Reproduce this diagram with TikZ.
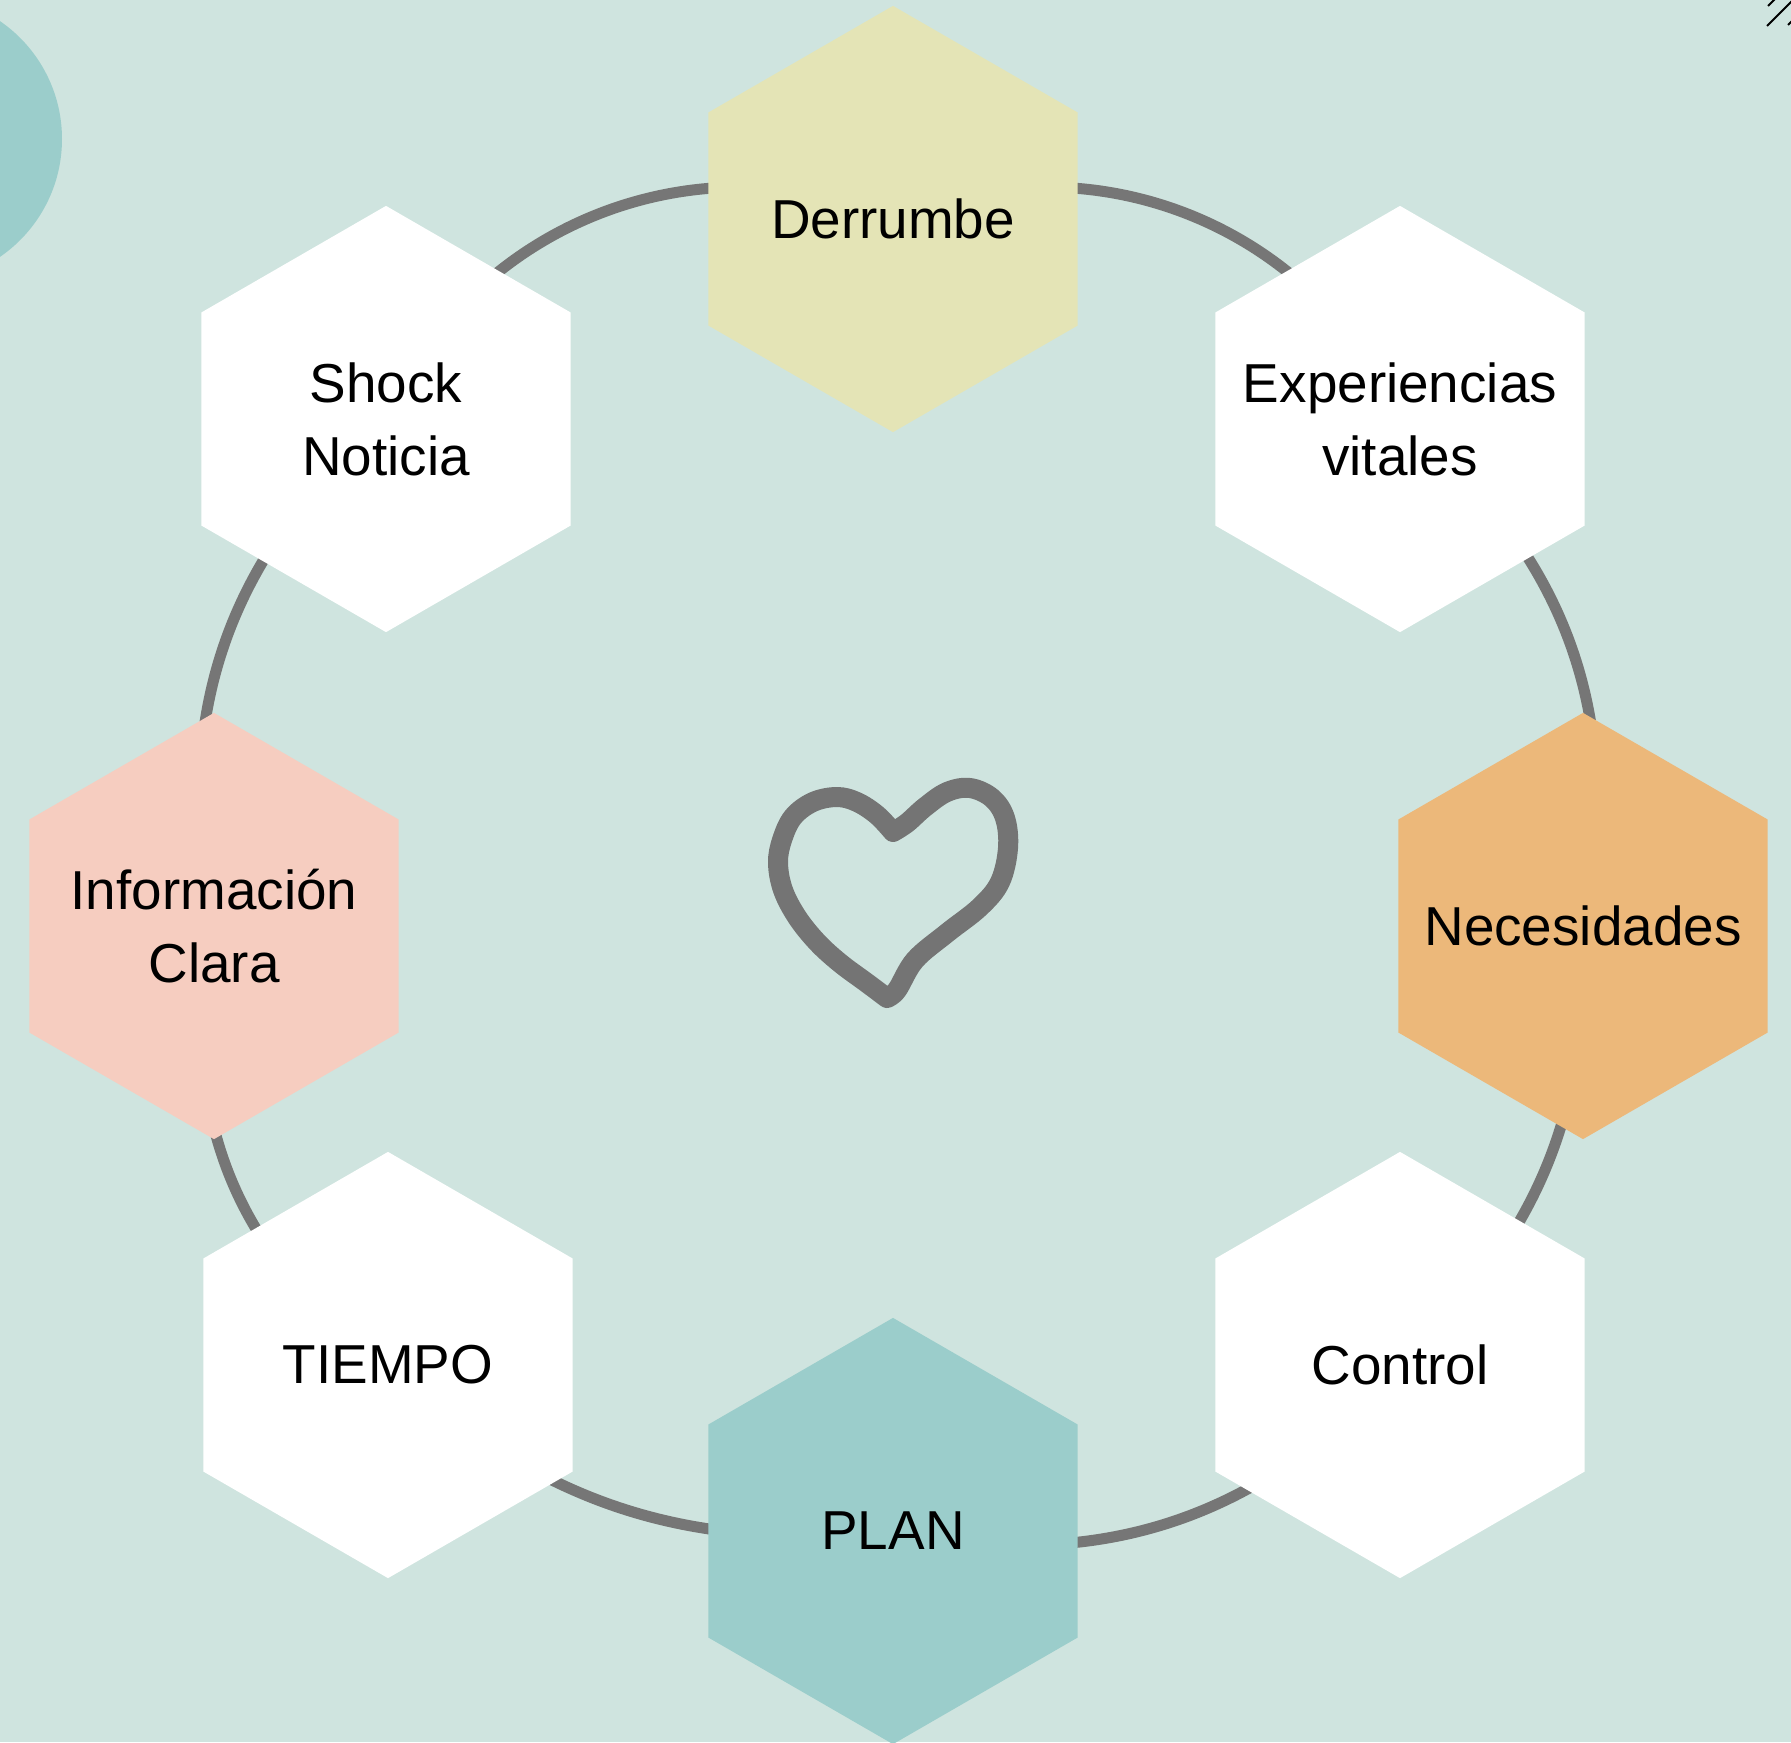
\documentclass[tikz,border=0pt]{standalone}
\usepackage{fontspec}
\setmainfont{Liberation Sans}
\usetikzlibrary{shapes.geometric}
\pgfdeclarelayer{back}
\pgfdeclarelayer{ring}
\pgfsetlayers{back,ring,main}
\definecolor{bgcol}{HTML}{CFE4DF}
\definecolor{tealcol}{HTML}{9BCDCB}
\definecolor{yellowcol}{HTML}{E4E4B6}
\definecolor{orangecol}{HTML}{ECB87A}
\definecolor{pinkcol}{HTML}{F6CDC0}
\definecolor{ringgray}{HTML}{767676}
\definecolor{heartgray}{HTML}{747474}
\begin{document}
\begin{tikzpicture}[x=0.01cm,y=0.01cm]

    \tikzset{
      HexStyle/.style = { regular polygon, regular polygon sides=6,
                          shape border rotate=30, minimum size=4.26cm,
                          inner sep=0pt, fill=white },
      HexLabel/.style = { align=center, inner sep=0pt,
                          font=\fontsize{15.6}{20.7}\selectfont },
      RingStyle/.style = { draw=ringgray, line width=0.11cm },
      HeartStyle/.style = { draw=heartgray, line width=0.2cm,
                            line cap=round, line join=round } }

      \useasboundingbox (0,0) rectangle (1791,-1742);

      \begin{pgfonlayer}{back}
      \fill[bgcol] (0,0) rectangle (1791,-1742);
      \begin{scope}
        \clip (0,0) rectangle (1791,-1742);
        \fill[tealcol] (-81,-139) circle (143);
        \draw[black, line width=0.02cm] (1768,-6) -- (1778,4);
        \draw[black, line width=0.02cm] (1767,-26) -- (1797,4);
        \draw[black, line width=0.02cm] (1788,-25) -- (1802,-11);
      \end{scope}
      \end{pgfonlayer}

      \node[HexStyle, fill=yellowcol, label={[HexLabel]center:Derrumbe}] (h1) at (893,-219) {};
      \node[HexStyle, label={[HexLabel]center:Experiencias\\vitales}] (h2) at (1400,-419) {};
      \node[HexStyle, fill=orangecol, label={[HexLabel]center:Necesidades}] (h3) at (1583,-926) {};
      \node[HexStyle, label={[HexLabel]center:Control}] (h4) at (1400,-1365) {};
      \node[HexStyle, fill=tealcol, label={[HexLabel]center:PLAN}] (h5) at (893,-1531) {};
      \node[HexStyle, label={[HexLabel]center:TIEMPO}] (h6) at (388,-1365) {};
      \node[HexStyle, fill=pinkcol, label={[HexLabel]center:Información\\Clara}] (h7) at (214,-926) {};
      \node[HexStyle, label={[HexLabel]center:Shock\\Noticia}] (h8) at (386,-419) {};

      \begin{pgfonlayer}{ring}
      \draw[RingStyle] (h1.center) to[bend left=45] (h2.center);
      \draw[RingStyle] (h2.center) to[bend left=32] (h3.center);
      \draw[RingStyle] (h3.center) to[bend left=25] (h4.center);
      \draw[RingStyle] (h4.center) to[bend left=30] (h5.center);
      \draw[RingStyle] (h5.center) to[bend left=24] (h6.center);
      \draw[RingStyle] (h6.center) to[bend left=34] (h7.center);
      \draw[RingStyle] (h7.center) to[bend left=31] (h8.center);
      \draw[RingStyle] (h8.center) to[bend left=45] (h1.center);
      \end{pgfonlayer}

      \draw[HeartStyle] plot[smooth, tension=0.6] coordinates {(893,-832)
        (877,-815) (857,-802) (837,-797) (813,-802) (793,-817) (782,-840)
        (778,-863) (783,-890) (797,-917) (817,-942) (840,-963) (867,-983)
        (887,-998)}
        plot[smooth, tension=0.6] coordinates {(887,-998) (897,-990)
        (915,-960) (947,-933) (980,-907) (1000,-882) (1008,-848) (1005,-818)
        (992,-798) (970,-788) (947,-792) (925,-807) (907,-823) (893,-832)};
    \end{tikzpicture}
\end{document}
